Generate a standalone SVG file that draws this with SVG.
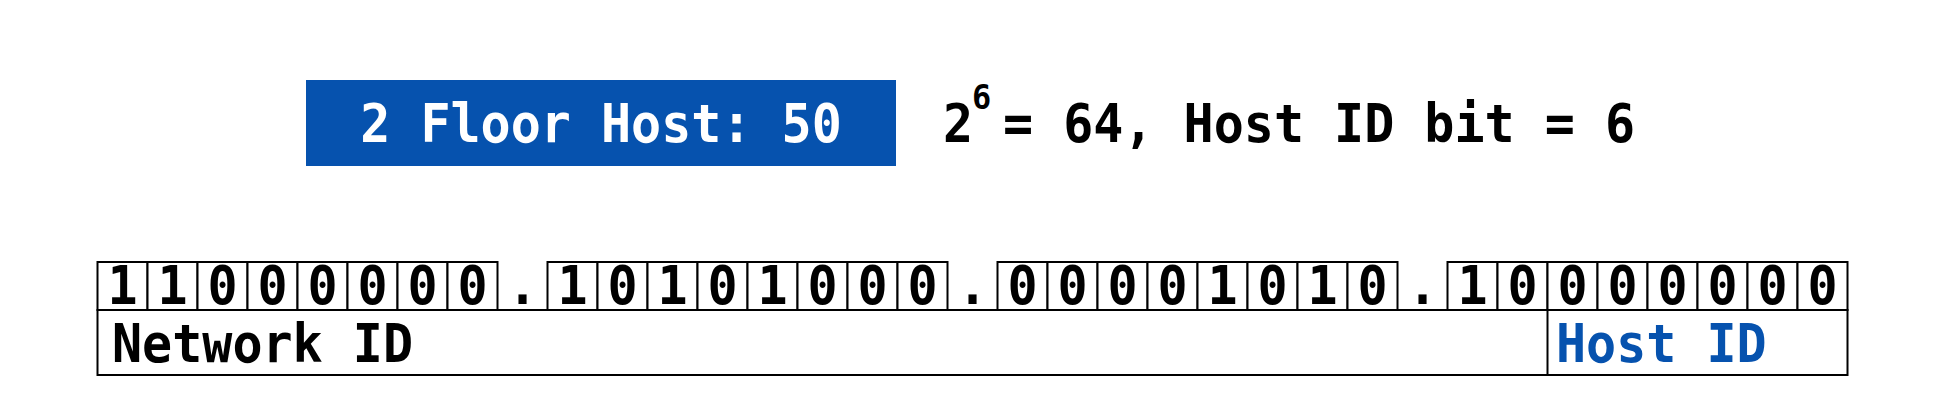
<svg xmlns="http://www.w3.org/2000/svg" width="1946" height="417" viewBox="0 0 1946 417">
<style>
  text { font-family: "DejaVu Sans Mono", "Liberation Mono", monospace; font-weight: bold; }
  .bit { font-size: 50px; fill: #000; text-anchor: middle; }
  .cell { fill: #fff; stroke: #000; stroke-width: 2; }
  .line { fill: none; stroke: #000; stroke-width: 2; }
</style>
<rect width="1946" height="417" fill="#fff"/>
<g id="title-box">
  <rect x="306" y="80" width="590" height="86" fill="#0652AE"/>
  <text x="601" y="142" font-size="50" fill="#fff" text-anchor="middle" transform="matrix(1,0,0,1.06,0,-8.52)">2 Floor Host: 50</text>
</g>
<g id="formula" transform="matrix(1,0,0,1.06,0,-8.52)">
  <text x="943" y="142" font-size="50" fill="#000">2</text>
  <text x="972" y="111" font-size="32" fill="#000">6</text>
  <text x="1003" y="142" font-size="50" fill="#000">= 64, Host ID bit = 6</text>
</g>
<g id="bits">
  <rect class="cell" x="97.5" y="262" width="50" height="48"/>
  <rect class="cell" x="147.5" y="262" width="50" height="48"/>
  <rect class="cell" x="197.5" y="262" width="50" height="48"/>
  <rect class="cell" x="247.5" y="262" width="50" height="48"/>
  <rect class="cell" x="297.5" y="262" width="50" height="48"/>
  <rect class="cell" x="347.5" y="262" width="50" height="48"/>
  <rect class="cell" x="397.5" y="262" width="50" height="48"/>
  <rect class="cell" x="447.5" y="262" width="50" height="48"/>
  <rect class="cell" x="547.5" y="262" width="50" height="48"/>
  <rect class="cell" x="597.5" y="262" width="50" height="48"/>
  <rect class="cell" x="647.5" y="262" width="50" height="48"/>
  <rect class="cell" x="697.5" y="262" width="50" height="48"/>
  <rect class="cell" x="747.5" y="262" width="50" height="48"/>
  <rect class="cell" x="797.5" y="262" width="50" height="48"/>
  <rect class="cell" x="847.5" y="262" width="50" height="48"/>
  <rect class="cell" x="897.5" y="262" width="50" height="48"/>
  <rect class="cell" x="997.5" y="262" width="50" height="48"/>
  <rect class="cell" x="1047.5" y="262" width="50" height="48"/>
  <rect class="cell" x="1097.5" y="262" width="50" height="48"/>
  <rect class="cell" x="1147.5" y="262" width="50" height="48"/>
  <rect class="cell" x="1197.5" y="262" width="50" height="48"/>
  <rect class="cell" x="1247.5" y="262" width="50" height="48"/>
  <rect class="cell" x="1297.5" y="262" width="50" height="48"/>
  <rect class="cell" x="1347.5" y="262" width="50" height="48"/>
  <rect class="cell" x="1447.5" y="262" width="50" height="48"/>
  <rect class="cell" x="1497.5" y="262" width="50" height="48"/>
  <rect class="cell" x="1547.5" y="262" width="50" height="48"/>
  <rect class="cell" x="1597.5" y="262" width="50" height="48"/>
  <rect class="cell" x="1647.5" y="262" width="50" height="48"/>
  <rect class="cell" x="1697.5" y="262" width="50" height="48"/>
  <rect class="cell" x="1747.5" y="262" width="50" height="48"/>
  <rect class="cell" x="1797.5" y="262" width="50" height="48"/>
  <g transform="matrix(1,0,0,1.06,0,-18.24)">
  <text class="bit" x="122.5" y="304">1</text>
  <text class="bit" x="172.5" y="304">1</text>
  <text class="bit" x="222.5" y="304">0</text>
  <text class="bit" x="272.5" y="304">0</text>
  <text class="bit" x="322.5" y="304">0</text>
  <text class="bit" x="372.5" y="304">0</text>
  <text class="bit" x="422.5" y="304">0</text>
  <text class="bit" x="472.5" y="304">0</text>
  <text class="bit" x="522.5" y="304">.</text>
  <text class="bit" x="572.5" y="304">1</text>
  <text class="bit" x="622.5" y="304">0</text>
  <text class="bit" x="672.5" y="304">1</text>
  <text class="bit" x="722.5" y="304">0</text>
  <text class="bit" x="772.5" y="304">1</text>
  <text class="bit" x="822.5" y="304">0</text>
  <text class="bit" x="872.5" y="304">0</text>
  <text class="bit" x="922.5" y="304">0</text>
  <text class="bit" x="972.5" y="304">.</text>
  <text class="bit" x="1022.5" y="304">0</text>
  <text class="bit" x="1072.5" y="304">0</text>
  <text class="bit" x="1122.5" y="304">0</text>
  <text class="bit" x="1172.5" y="304">0</text>
  <text class="bit" x="1222.5" y="304">1</text>
  <text class="bit" x="1272.5" y="304">0</text>
  <text class="bit" x="1322.5" y="304">1</text>
  <text class="bit" x="1372.5" y="304">0</text>
  <text class="bit" x="1422.5" y="304">.</text>
  <text class="bit" x="1472.5" y="304">1</text>
  <text class="bit" x="1522.5" y="304">0</text>
  <text class="bit" x="1572.5" y="304">0</text>
  <text class="bit" x="1622.5" y="304">0</text>
  <text class="bit" x="1672.5" y="304">0</text>
  <text class="bit" x="1722.5" y="304">0</text>
  <text class="bit" x="1772.5" y="304">0</text>
  <text class="bit" x="1822.5" y="304">0</text>
  </g>
</g>
<g id="labels">
  <rect class="line" x="97.5" y="310" width="1750" height="65"/>
  <line class="line" x1="1547.5" y1="310" x2="1547.5" y2="375"/>
  <g transform="matrix(1,0,0,1.06,0,-21.72)">
    <text x="112" y="362" font-size="50" fill="#000">Network ID</text>
    <text x="1556" y="362" font-size="50" fill="#0652AE">Host ID</text>
  </g>
</g>
</svg>
